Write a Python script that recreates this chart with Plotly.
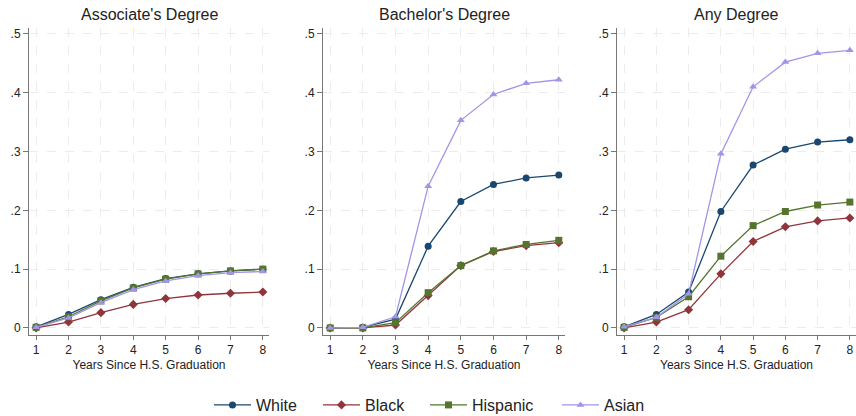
import plotly.graph_objects as go

years = [1, 2, 3, 4, 5, 6, 7, 8]
groups = ["White", "Black", "Hispanic", "Asian"]
panel_titles = ["Associate's Degree", "Bachelor's Degree", "Any Degree"]

assoc_white = [0.002, 0.023, 0.048, 0.069, 0.084, 0.092, 0.097, 0.100]
assoc_black = [0.000, 0.010, 0.026, 0.040, 0.050, 0.056, 0.059, 0.061]
assoc_hispanic = [0.001, 0.019, 0.046, 0.068, 0.083, 0.092, 0.097, 0.100]
assoc_asian = [0.001, 0.017, 0.043, 0.065, 0.080, 0.089, 0.094, 0.096]

bach_white = [0.000, 0.001, 0.015, 0.139, 0.215, 0.244, 0.255, 0.260]
bach_black = [0.000, 0.000, 0.005, 0.055, 0.106, 0.130, 0.140, 0.145]
bach_hispanic = [0.000, 0.000, 0.009, 0.060, 0.106, 0.131, 0.142, 0.149]
bach_asian = [0.000, 0.001, 0.019, 0.241, 0.353, 0.397, 0.416, 0.422]

any_white = [0.002, 0.023, 0.061, 0.198, 0.277, 0.304, 0.316, 0.320]
any_black = [0.000, 0.010, 0.031, 0.092, 0.147, 0.172, 0.182, 0.187]
any_hispanic = [0.001, 0.018, 0.053, 0.122, 0.174, 0.198, 0.209, 0.214]
any_asian = [0.002, 0.018, 0.058, 0.296, 0.410, 0.452, 0.467, 0.472]

y_tickvals = [0, 0.1, 0.2, 0.3, 0.4, 0.5]
y_ticktext = ["0", ".1", ".2", ".3", ".4", ".5"]

panels = [
    [assoc_white, assoc_black, assoc_hispanic, assoc_asian],
    [bach_white, bach_black, bach_hispanic, bach_asian],
    [any_white, any_black, any_hispanic, any_asian],
]

colors = ["#1a476f", "#90353b", "#55752f", "#a096e6"]
symbols = ["circle", "diamond", "square", "triangle-up"]
msizes = [7, 7, 7, 7]

W, H = 856, 416
MT, MB = 28, 81
plot_h = H - MT - MB
domains = [(29 / W, 269 / W), (323 / W, 565 / W), (617 / W, 1.0)]
legend_px = [214, 323, 430, 562]  # left pixel of each legend entry
legend_names = ["legend", "legend2", "legend3", "legend4"]

fig = go.Figure()
for p, series in enumerate(panels):
    ax = "" if p == 0 else str(p + 1)
    for g in range(4):
        fig.add_trace(go.Scatter(
            x=years, y=series[g], name=groups[g],
            mode="lines+markers",
            line=dict(color=colors[g], width=1.3),
            marker=dict(color=colors[g], symbol=symbols[g], size=msizes[g]),
            xaxis="x" + ax, yaxis="y" + ax,
            showlegend=(p == 0), legend=legend_names[g],
        ))

layout = dict(
    width=W, height=H,
    paper_bgcolor="white", plot_bgcolor="white",
    margin=dict(l=0, r=0, t=MT, b=MB, autoexpand=False),
    font=dict(family="Liberation Sans, Arial, sans-serif", color="#222222"),
    showlegend=True,
    annotations=[],
)

leg_y = -(405 - (H - MB)) / plot_h
for g in range(4):
    layout[legend_names[g]] = dict(
        orientation="h", x=(legend_px[g] - 5) / W, xanchor="left",
        y=leg_y, yanchor="middle", bgcolor="rgba(0,0,0,0)",
        font=dict(size=16, color="#222222"), itemwidth=37,
    )

for p in range(3):
    ax = "" if p == 0 else str(p + 1)
    layout["xaxis" + ax] = dict(
        domain=list(domains[p]), range=[0.78, 8.19], anchor="y" + ax,
        tickvals=years, ticktext=[str(y) for y in years],
        showline=True, linecolor="#777777", linewidth=1,
        ticks="outside", ticklen=4, tickcolor="#777777",
        showgrid=True, gridcolor="#ececec", griddash="dash", gridwidth=1,
        zeroline=False, tickfont=dict(size=12),
        title=dict(text="Years Since H.S. Graduation", font=dict(size=12), standoff=4),
    )
    layout["yaxis" + ax] = dict(
        domain=[0, 1], range=[-0.012, 0.51], anchor="x" + ax,
        tickvals=y_tickvals, ticktext=y_ticktext,
        showline=True, linecolor="#777777", linewidth=1,
        ticks="outside", ticklen=5, tickcolor="#777777",
        showgrid=True, gridcolor="#ececec", griddash="dash", gridwidth=1,
        zeroline=False, tickfont=dict(size=12),
    )
    layout["annotations"].append(dict(
        text=panel_titles[p], x=(domains[p][0] + domains[p][1]) / 2, xref="paper",
        y=1 + (MT - 15) / plot_h, yref="paper", showarrow=False,
        font=dict(size=16, color="#222222"),
        xanchor="center", yanchor="middle",
    ))

fig.update_layout(**layout)

fig.write_html(
    "out.html",
    config={"displayModeBar": False},
    post_script="document.body.style.margin='0';document.body.style.overflow='hidden';",
)
